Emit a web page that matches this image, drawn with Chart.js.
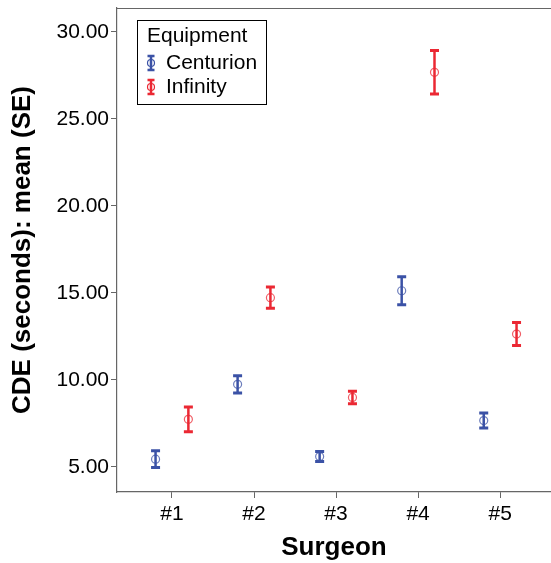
<!DOCTYPE html>
<html>
<head>
<meta charset="utf-8">
<script src="https://cdn.jsdelivr.net/npm/chart.js@4"></script>
<style>
    body { margin: 0; background: #fff; }
    #wrap { width: 551px; height: 563px; position: relative; }
</style>
</head>
<body>
<div id="wrap"><canvas id="chart"></canvas></div>
<script>
// Data
const surgeons = ['#1', '#2', '#3', '#4', '#5'];
const centurionMean = [5.45, 9.75, 5.6, 15.13, 7.67];
const centurionSE = [0.48, 0.5, 0.29, 0.8, 0.43];
const infinityMean = [7.74, 14.73, 9.0, 27.68, 12.64];
const infinitySE = [0.71, 0.61, 0.36, 1.25, 0.66];
const yTicks = [5, 10, 15, 20, 25, 30];

const blue = '#3b52a6';
const red = '#eb2833';
const font = 'Liberation Sans, Arial, sans-serif';

function points(means, offset) {
    return means.map((m, i) => ({ x: i + 1 + offset, y: m }));
}

// Error bars + frame top line + boxed legend
const errorBars = {
    id: 'errorBars',
    afterDatasetsDraw(chart) {
        const ctx = chart.ctx;
        const xs = chart.scales.x, ys = chart.scales.y;
        const groups = [
            { means: centurionMean, se: centurionSE, off: -0.2, color: blue },
            { means: infinityMean, se: infinitySE, off: 0.2, color: red }
        ];
        ctx.save();
        groups.forEach(g => {
            ctx.strokeStyle = g.color;
            g.means.forEach((m, i) => {
                const px = xs.getPixelForValue(i + 1 + g.off);
                const top = ys.getPixelForValue(m + g.se[i]);
                const bot = ys.getPixelForValue(m - g.se[i]);
                ctx.lineWidth = 2.5;
                ctx.beginPath();
                ctx.moveTo(px, top);
                ctx.lineTo(px, bot);
                ctx.stroke();
                ctx.lineWidth = 3;
                ctx.beginPath();
                ctx.moveTo(px - 4.5, top);
                ctx.lineTo(px + 4.5, top);
                ctx.moveTo(px - 4.5, bot);
                ctx.lineTo(px + 4.5, bot);
                ctx.stroke();
            });
        });

        // top frame line
        const a = chart.chartArea;
        ctx.strokeStyle = '#666';
        ctx.lineWidth = 1.2;
        ctx.beginPath();
        ctx.moveTo(a.left, a.top + 0.5);
        ctx.lineTo(a.right, a.top + 0.5);
        ctx.stroke();

        // legend
        const lx = a.left + 20, ly = a.top + 12;
        ctx.fillStyle = '#fff';
        ctx.fillRect(lx, ly, 129, 84);
        ctx.strokeStyle = '#000';
        ctx.lineWidth = 1;
        ctx.strokeRect(lx + 0.5, ly + 0.5, 129, 84);
        ctx.fillStyle = '#000';
        ctx.font = '21px ' + font;
        ctx.textBaseline = 'middle';
        ctx.textAlign = 'left';
        ctx.fillText('Equipment', lx + 10, ly + 16);
        const items = [['Centurion', blue, 43], ['Infinity', red, 67]];
        items.forEach(([label, color, dy]) => {
            const cx = lx + 14, cy = ly + dy;
            ctx.strokeStyle = color;
            ctx.lineWidth = 2.5;
            ctx.beginPath();
            ctx.moveTo(cx, cy - 7);
            ctx.lineTo(cx, cy + 7);
            ctx.moveTo(cx - 3.5, cy - 7);
            ctx.lineTo(cx + 3.5, cy - 7);
            ctx.moveTo(cx - 3.5, cy + 7);
            ctx.lineTo(cx + 3.5, cy + 7);
            ctx.stroke();
            ctx.lineWidth = 1.2;
            ctx.beginPath();
            ctx.arc(cx, cy, 3.5, 0, Math.PI * 2);
            ctx.stroke();
            ctx.fillStyle = '#000';
            ctx.fillText(label, lx + 29, cy);
        });
        ctx.restore();
    }
};

new Chart(document.getElementById('chart'), {
    type: 'scatter',
    data: {
        datasets: [
            {
                label: 'Centurion',
                data: points(centurionMean, -0.2),
                pointRadius: 4,
                pointBorderWidth: 1.2,
                borderColor: 'rgba(59, 82, 166, 0.75)',
                backgroundColor: 'rgba(0,0,0,0)'
            },
            {
                label: 'Infinity',
                data: points(infinityMean, 0.2),
                pointRadius: 4,
                pointBorderWidth: 1.2,
                borderColor: 'rgba(235, 40, 51, 0.75)',
                backgroundColor: 'rgba(0,0,0,0)'
            }
        ]
    },
    options: {
        responsive: true,
        maintainAspectRatio: false,
        animation: false,
        layout: { autoPadding: false, padding: { top: 8, right: 0, left: 0, bottom: 0 } },
        plugins: { legend: { display: false }, tooltip: { enabled: false } },
        scales: {
            x: {
                type: 'linear',
                min: 0.33,
                max: 5.62,
                afterBuildTicks: s => { s.ticks = surgeons.map((_, i) => ({ value: i + 1 })); },
                afterFit: s => {
                    s.height = 71;
                    s.paddingLeft = 0;
                    s.paddingRight = 0;
                },
                ticks: {
                    color: '#000',
                    font: { family: font, size: 21 },
                    padding: 4,
                    callback: v => surgeons[v - 1]
                },
                grid: { drawOnChartArea: false, tickLength: 6, color: '#666' },
                border: { color: '#666', width: 1.2 },
                title: {
                    display: true,
                    text: 'Surgeon',
                    color: '#000',
                    font: { family: font, size: 26, weight: 'bold' },
                    padding: { top: 0, bottom: 0 }
                }
            },
            y: {
                min: 3.563,
                max: 31.379,
                afterBuildTicks: s => { s.ticks = yTicks.map(v => ({ value: v })); },
                afterFit: s => {
                    s.width = 117;
                    s.paddingTop = 0;
                    s.paddingBottom = 0;
                },
                ticks: {
                    color: '#000',
                    font: { family: font, size: 21 },
                    padding: 2,
                    callback: v => v.toFixed(2)
                },
                grid: { drawOnChartArea: false, tickLength: 6, color: '#666' },
                border: { color: '#666', width: 1.2 },
                title: {
                    display: true,
                    text: 'CDE (seconds): mean (SE)',
                    color: '#000',
                    font: { family: font, size: 26, weight: 'bold' },
                    padding: { top: 7, bottom: 0 }
                }
            }
        }
    },
    plugins: [errorBars]
});
</script>
</body>
</html>
